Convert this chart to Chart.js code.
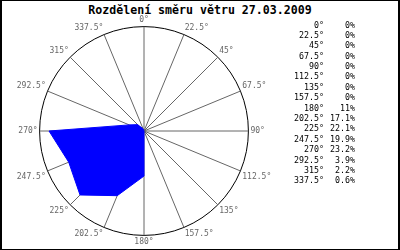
<!DOCTYPE html>
<html>
<head>
<meta charset="utf-8">
<script src="https://cdn.jsdelivr.net/npm/chart.js@4/dist/chart.umd.min.js"></script>
<style>
  html, body { margin: 0; padding: 0; background: #fff; }
  #frame { position: relative; width: 400px; height: 250px; box-sizing: border-box;
           border-style: solid; border-color: #000; border-width: 1px 2px 1px 2px; overflow: hidden; background:#fff; }
  #title { position: absolute; left: 0; top: 2px; width: 396px; text-align: center;
           font: bold 11.6px "DejaVu Sans Mono", monospace; color: #000; }
  #wrap { position: absolute; left: -2px; top: 14px; width: 288px; height: 232px; }
  #table { position: absolute; left: 280px; top: 18.5px; font: 8.3px "DejaVu Sans Mono", monospace; color: #000; }
  .row { height: 10.4px; line-height: 10.4px; white-space: pre; }
  .dir { display: inline-block; width: 42px; text-align: right; }
  .val { display: inline-block; width: 31px; text-align: right; }
</style>
</head>
<body>
<div id="frame">
  <div id="title">Rozdělení směru větru 27.03.2009</div>
  <div id="wrap"><canvas id="c"></canvas></div>
  <div id="table"></div>
</div>
<script>
const directions = ["0°","22.5°","45°","67.5°","90°","112.5°","135°","157.5°","180°","202.5°","225°","247.5°","270°","292.5°","315°","337.5°"];
const percents = [0, 0, 0, 0, 0, 0, 0, 0, 11, 17.1, 22.1, 19.9, 23.2, 3.9, 2.2, 0.6];
const percentLabels = ["0%","0%","0%","0%","0%","0%","0%","0%","11%","17.1%","22.1%","19.9%","23.2%","3.9%","2.2%","0.6%"];
const scaleMax = 25.5;

const table = document.getElementById('table');
directions.forEach((d, i) => {
  const row = document.createElement('div');
  row.className = 'row';
  const a = document.createElement('span'); a.className = 'dir'; a.textContent = d;
  const b = document.createElement('span'); b.className = 'val'; b.textContent = percentLabels[i];
  row.appendChild(a); row.appendChild(b);
  table.appendChild(row);
});

new Chart(document.getElementById('c'), {
  type: 'radar',
  data: {
    labels: directions,
    datasets: [{
      data: percents,
      backgroundColor: '#0000ff',
      borderColor: '#0000ff',
      borderWidth: 1,
      fill: true,
      pointRadius: 0,
      tension: 0
    }]
  },
  options: {
    responsive: true,
    maintainAspectRatio: false,
    animation: false,
    events: [],
    plugins: { legend: { display: false }, tooltip: { enabled: false }, title: { display: false } },
    scales: {
      r: {
        min: 0,
        max: scaleMax,
        ticks: { display: false, stepSize: scaleMax },
        grid: { color: '#000', lineWidth: 1, circular: true },
        angleLines: { color: '#666666', lineWidth: 1 },
        pointLabels: { color: '#666666', padding: 2, font: { family: '"DejaVu Sans Mono", monospace', size: 8 } }
      }
    }
  }
});
</script>
</body>
</html>
